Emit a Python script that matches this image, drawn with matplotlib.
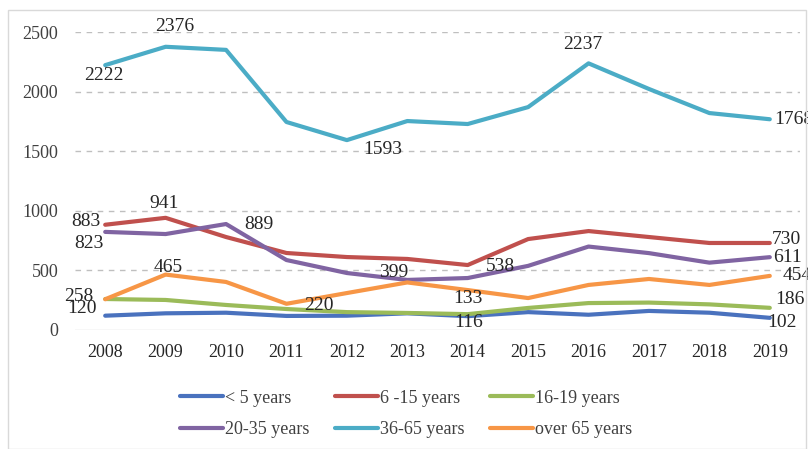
import matplotlib
matplotlib.use("Agg")
import matplotlib.pyplot as plt
from matplotlib.patches import Rectangle

years = [2008, 2009, 2010, 2011, 2012, 2013, 2014, 2015, 2016, 2017, 2018, 2019]
under5 = [120, 140, 145, 118, 120, 140, 116, 150, 128, 160, 145, 102]
age6_15 = [883, 941, 780, 646, 612, 596, 545, 763, 830, 780, 730, 730]
age16_19 = [260, 252, 210, 176, 150, 143, 133, 185, 226, 230, 215, 186]
age20_35 = [823, 805, 889, 587, 478, 420, 436, 538, 700, 645, 565, 611]
age36_65 = [2222, 2376, 2350, 1745, 1593, 1753, 1728, 1870, 2237, 2022, 1820, 1768]
over65 = [258, 465, 403, 220, 310, 399, 335, 268, 378, 428, 378, 454]

series_names = ["< 5 years", "6 -15 years", "16-19 years", "20-35 years", "36-65 years", "over 65 years"]
series_values = [under5, age6_15, age16_19, age20_35, age36_65, over65]
colors = ["#4a72be", "#c0504d", "#9bbb59", "#8064a2", "#4bacc6", "#f79646"]
y_ticks = [0, 500, 1000, 1500, 2000, 2500]

# (series index, year index, dx px, dy px, ha)
labels = [
    (4, 0, -1, -10, "center"), (4, 1, 9, 20, "center"), (4, 4, 36, -9, "center"),
    (4, 8, -6, 19, "center"), (4, 11, 4, 0, "left"),
    (1, 0, -5, 3, "right"), (1, 1, -2, 14, "center"),
    (3, 0, -16, -12, "center"), (3, 2, 33, 0, "center"),
    (5, 1, 3, 7, "center"), (5, 0, -12, 3, "right"),
    (0, 0, -8, 7, "right"), (5, 3, 32, -2, "center"),
    (5, 5, -14, 10, "center"), (3, 7, -28, -1, "center"),
    (2, 6, 0, 16, "center"), (0, 6, 1, -6, "center"),
    (1, 11, 2, 3, "left"), (3, 11, 3, 0, "left"), (5, 11, 13, 0, "left"),
    (2, 11, 5, 8, "left"), (0, 11, -3, -5, "left"),
]

plt.rcParams["font.family"] = ["Liberation Serif", "DejaVu Serif"]
fig = plt.figure(figsize=(8.08, 4.49), dpi=100)
fig.patches.append(Rectangle((8 / 808, 0.0), 1 - 8 / 808 - 0.002, 1 - 10 / 449,
                             transform=fig.transFigure, fill=False,
                             edgecolor="#d9d9d9", linewidth=1.0))
ax = fig.add_axes([75 / 808, 119 / 449, 725 / 808, 298 / 449])

x = list(range(len(years)))
handles = []
for name, vals, c in zip(series_names, series_values, colors):
    h, = ax.plot(x, vals, color=c, linewidth=3.0, solid_capstyle="round", label=name)
    handles.append(h)

for si, yi, dx, dy, ha in labels:
    v = series_values[si][yi]
    ax.annotate(str(v), (x[yi], v), xytext=(dx, dy), textcoords="offset pixels",
                ha=ha, va="center", fontsize=14, color="#262626", annotation_clip=False)

ax.set_xlim(-0.5, 11.5)
ax.set_ylim(0, 2500)
ax.set_xticks(x)
ax.set_xticklabels([str(y) for y in years], fontsize=13, color="#262626")
ax.set_yticks(y_ticks)
ax.set_yticklabels([str(t) for t in y_ticks], fontsize=13, color="#404040")
ax.tick_params(length=0, pad=10)
ax.tick_params(axis="y", pad=12)
for t in y_ticks[1:]:
    ax.axhline(t, color="#bfbfbf", linewidth=1.0, linestyle=(0, (4, 4)), zorder=0)
ax.axhline(0, color="#d9d9d9", linewidth=1.0, zorder=0)
for s in ax.spines.values():
    s.set_visible(False)

order = [0, 3, 1, 4, 2, 5]
fig.legend([handles[i] for i in order], [series_names[i] for i in order],
           ncol=3, loc="center", bbox_to_anchor=(406 / 808, 1 - 414 / 449),
           frameon=False, fontsize=13, handlelength=2.4, handletextpad=0.1,
           columnspacing=1.4, labelspacing=0.8, labelcolor="#404040")

fig.savefig("out.png", dpi=100)
